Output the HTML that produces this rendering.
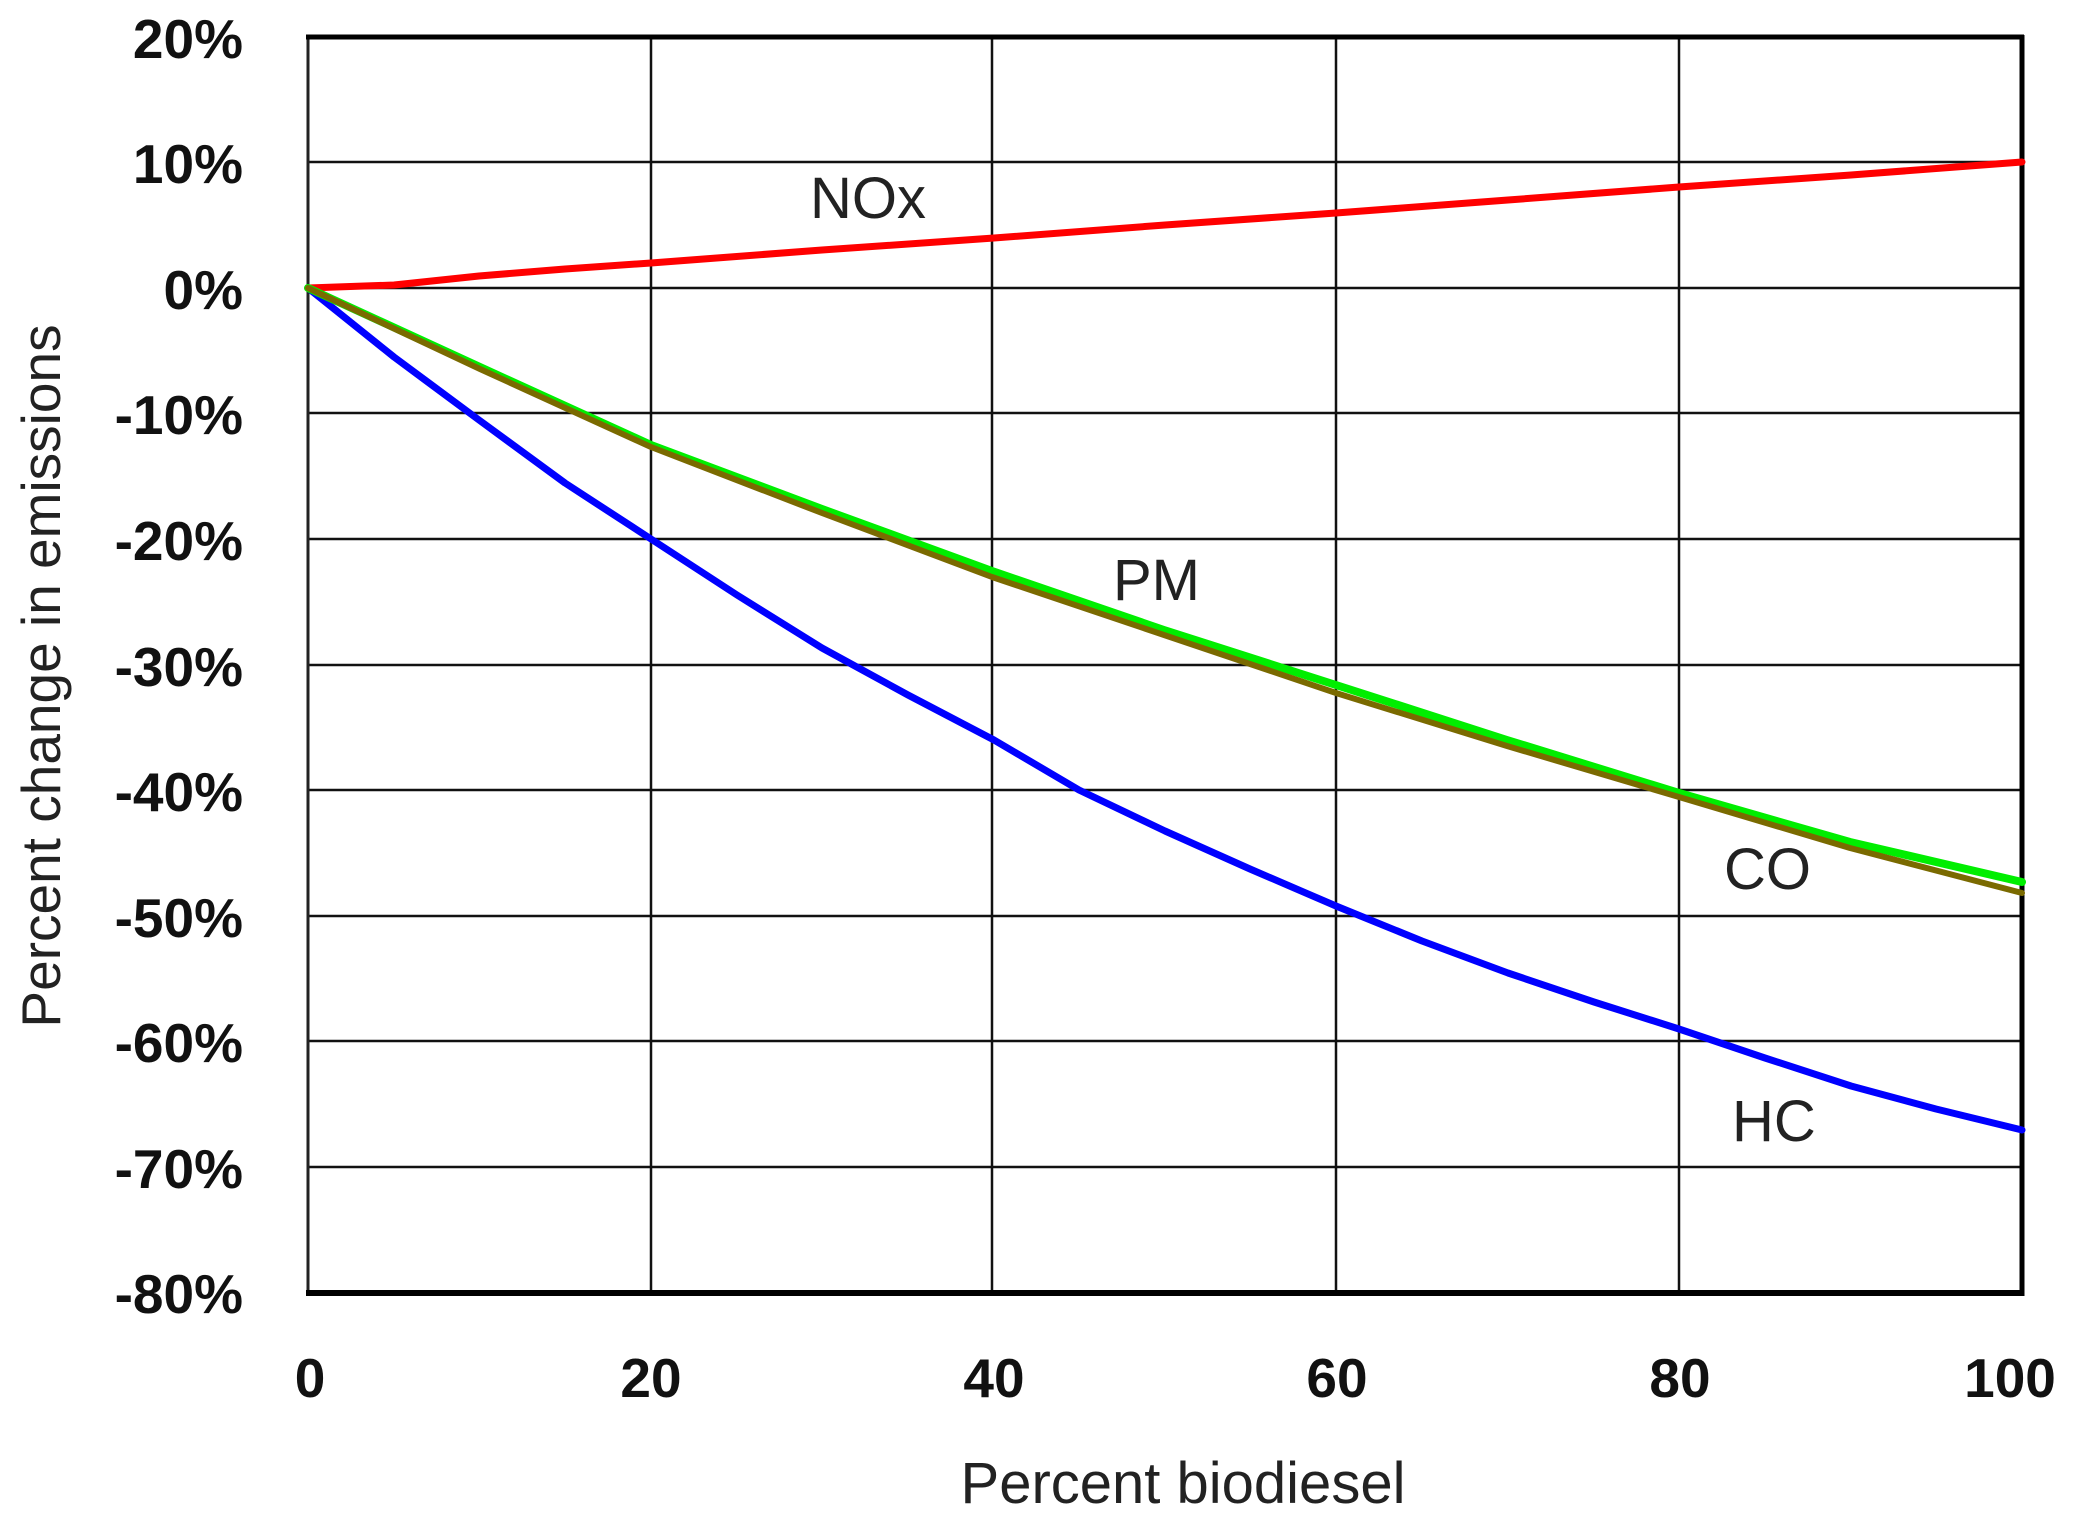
<!DOCTYPE html>
<html><head><meta charset="utf-8"><style>
html,body{margin:0;padding:0;background:#fff;}
svg{display:block;}
text{font-family:"Liberation Sans",sans-serif;}
</style></head><body>
<svg width="2088" height="1518" viewBox="0 0 2088 1518" xmlns="http://www.w3.org/2000/svg">
<rect width="2088" height="1518" fill="#fff"/>
<g stroke="#111" stroke-width="2.5">
<line x1="308" y1="162" x2="2022" y2="162"/>
<line x1="308" y1="288" x2="2022" y2="288"/>
<line x1="308" y1="413" x2="2022" y2="413"/>
<line x1="308" y1="539" x2="2022" y2="539"/>
<line x1="308" y1="665" x2="2022" y2="665"/>
<line x1="308" y1="790" x2="2022" y2="790"/>
<line x1="308" y1="916" x2="2022" y2="916"/>
<line x1="308" y1="1041" x2="2022" y2="1041"/>
<line x1="308" y1="1167" x2="2022" y2="1167"/>
<line x1="651" y1="37" x2="651" y2="1293"/>
<line x1="992" y1="37" x2="992" y2="1293"/>
<line x1="1336" y1="37" x2="1336" y2="1293"/>
<line x1="1679" y1="37" x2="1679" y2="1293"/>
</g>
<line x1="308" y1="37" x2="308" y2="1293" stroke="#222" stroke-width="3"/>
<line x1="306" y1="37" x2="2024" y2="37" stroke="#000" stroke-width="5"/>
<line x1="306" y1="1293" x2="2024" y2="1293" stroke="#000" stroke-width="6"/>
<line x1="2022" y1="35" x2="2022" y2="1296" stroke="#000" stroke-width="5"/>
<g fill="none" stroke-linecap="round" stroke-linejoin="round">
<polyline points="308,288 394,285 479,276 565,269 651,263 822,250 994,238 1165,225 1336,213 1508,200 1679,187 1851,175 2022,162" stroke="#ff0000" stroke-width="7"/>
<polyline points="308,288 394,357 479,420 565,483 651,539 737,595 822,648 908,695 994,740 1079,790 1165,831 1250,869 1336,906 1422,941 1508,973 1594,1002 1679,1029 1765,1058 1851,1086 1936,1109 2022,1130" stroke="#0000ff" stroke-width="7"/>
<polyline points="308,288 480,367 651,445 822,509 992,571 1164,630 1336,685 1507,740 1679,793 1850,842 2022,882" stroke="#00ee00" stroke-width="8"/>
<polyline points="308,288 480,369 651,447 822,513 992,577 1164,635 1336,693 1507,746 1679,797 1850,848 2022,893" stroke="#7a6a00" stroke-width="6"/>
</g>
<g font-size="55" font-weight="bold" fill="#111" text-anchor="end">
<text x="243" y="58">20%</text>
<text x="243" y="183">10%</text>
<text x="243" y="309">0%</text>
<text x="243" y="434">-10%</text>
<text x="243" y="560">-20%</text>
<text x="243" y="686">-30%</text>
<text x="243" y="811">-40%</text>
<text x="243" y="937">-50%</text>
<text x="243" y="1062">-60%</text>
<text x="243" y="1188">-70%</text>
<text x="243" y="1313">-80%</text>
</g>
<g font-size="55" font-weight="bold" fill="#111" text-anchor="middle">
<text x="310" y="1397">0</text>
<text x="651" y="1397">20</text>
<text x="994" y="1397">40</text>
<text x="1337" y="1397">60</text>
<text x="1680" y="1397">80</text>
<text x="2010" y="1397">100</text>
</g>
<g font-size="58" fill="#222">
<text x="810" y="218">NOx</text>
<text x="1113" y="600">PM</text>
<text x="1724" y="889">CO</text>
<text x="1732" y="1141">HC</text>
</g>
<text x="1183" y="1503" font-size="58" fill="#222" text-anchor="middle">Percent biodiesel</text>
<text transform="translate(60,676) rotate(-90)" font-size="55" fill="#222" text-anchor="middle">Percent change in emissions</text>
</svg>
</body></html>
